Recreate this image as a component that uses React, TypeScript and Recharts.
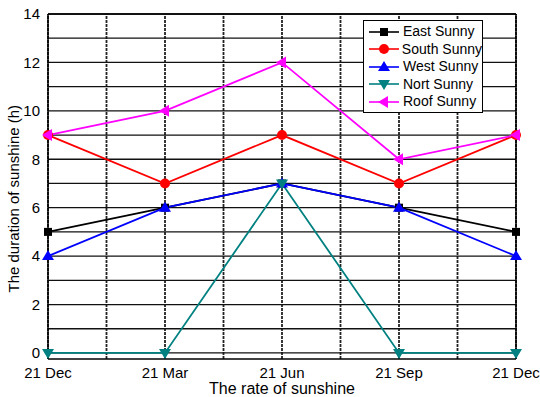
import { LineChart, Line, XAxis, YAxis, ReferenceLine } from "recharts"

const dates = ["21 Dec", "21 Mar", "21 Jun", "21 Sep", "21 Dec"]
const east = [5, 6, 7, 6, 5]
const south = [9, 7, 9, 7, 9]
const west = [4, 6, 7, 6, 4]
const nort = [0, 0, 7, 0, 0]
const roof = [9, 10, 12, 8, 9]
const yTicks = [0, 2, 4, 6, 8, 10, 12, 14]
const yGrid = [0, 1, 2, 3, 4, 5, 6, 7, 8, 9, 10, 11, 12, 13, 14]
const xGrid = [0, 0.5, 1, 1.5, 2, 2.5, 3, 3.5, 4]

const data = dates.map((d, i) => ({
  x: i,
  east: east[i],
  south: south[i],
  west: west[i],
  nort: nort[i],
  roof: roof[i],
}))

type Shape = "square" | "circle" | "up" | "down" | "left"

const series: { key: string; name: string; color: string; shape: Shape }[] = [
  { key: "east", name: "East Sunny", color: "#000000", shape: "square" },
  { key: "south", name: "South Sunny", color: "#ff0000", shape: "circle" },
  { key: "west", name: "West Sunny", color: "#0000ff", shape: "up" },
  { key: "nort", name: "Nort Sunny", color: "#008080", shape: "down" },
  { key: "roof", name: "Roof Sunny", color: "#ff00ff", shape: "left" },
]

const font = "Arial, 'Liberation Sans', sans-serif"

function Marker({ cx, cy, shape, color }: { cx: number; cy: number; shape: Shape; color: string }) {
  if (shape === "square") return <rect x={cx - 4} y={cy - 4} width={8} height={8} fill={color} />
  if (shape === "circle") return <circle cx={cx} cy={cy} r={5} fill={color} />
  if (shape === "up")
    return <polygon points={`${cx},${cy - 6} ${cx - 6},${cy + 4} ${cx + 6},${cy + 4}`} fill={color} />
  if (shape === "down")
    return <polygon points={`${cx},${cy + 6} ${cx - 6},${cy - 4} ${cx + 6},${cy - 4}`} fill={color} />
  return <polygon points={`${cx - 6},${cy} ${cx + 4},${cy - 6} ${cx + 4},${cy + 6}`} fill={color} />
}

function LegendBox() {
  return (
    <div
      style={{
        position: "absolute",
        left: 363,
        top: 20,
        width: 120,
        boxSizing: "border-box",
        border: "1px solid #000",
        background: "#fff",
        padding: "2px 0 1px 4px",
        fontFamily: font,
        fontSize: 14,
        lineHeight: "17.5px",
        color: "#000",
        whiteSpace: "nowrap",
      }}
    >
      {series.map((s) => (
        <div key={s.key} style={{ display: "flex", alignItems: "center" }}>
          <svg width={32} height={14} style={{ marginRight: 3 }}>
            <line x1={1} y1={7} x2={31} y2={7} stroke={s.color} strokeWidth={1.6} />
            <Marker cx={16} cy={7} shape={s.shape} color={s.color} />
          </svg>
          <span>{s.name}</span>
        </div>
      ))}
    </div>
  )
}

export default function App() {
  return (
    <div style={{ position: "fixed", left: 0, top: 0, width: 540, height: 397, background: "#fff" }}>
      <LineChart width={540} height={397} data={data} margin={{ top: 14, right: 24, left: 8, bottom: 8 }}>
        {xGrid.map((v) => (
          <ReferenceLine key={"vx" + v} x={v} stroke="#222" strokeWidth={1.8} strokeDasharray="3 1" />
        ))}
        {yGrid.map((v) => (
          <ReferenceLine key={"hy" + v} y={v} stroke="#111" strokeWidth={1.3} />
        ))}
        <ReferenceLine x={4} stroke="#000" strokeWidth={1.5} />
        <ReferenceLine y={14} stroke="#000" strokeWidth={1.5} />
        <XAxis
          dataKey="x"
          type="number"
          domain={[0, 4]}
          ticks={[0, 1, 2, 3, 4]}
          tickFormatter={(v: number) => dates[v]}
          axisLine={{ stroke: "#000", strokeWidth: 1.5 }}
          tickLine={false}
          tickSize={6}
          tickMargin={2}
          height={30}
          tick={{ fill: "#000", fontSize: 15, fontFamily: font }}
          label={{
            value: "The rate of sunshine",
            position: "insideBottom",
            offset: -5,
            fill: "#000",
            fontSize: 16,
            fontFamily: font,
          }}
        />
        <YAxis
          type="number"
          domain={[-0.25, 14]}
          ticks={yTicks}
          axisLine={{ stroke: "#000", strokeWidth: 1.5 }}
          tickLine={false}
          tickSize={6}
          tickMargin={2}
          width={40}
          tick={{ fill: "#000", fontSize: 15, fontFamily: font }}
          label={{
            value: "The duration of sunshine (h)",
            angle: -90,
            position: "insideLeft",
            offset: 6,
            dy: 106,
            fill: "#000",
            fontSize: 15,
            fontFamily: font,
          }}
        />
        {series.map((s) => (
          <Line
            key={s.key}
            dataKey={s.key}
            name={s.name}
            stroke={s.color}
            strokeWidth={1.8}
            isAnimationActive={false}
            dot={(p: any) => <Marker key={s.key + p.index} cx={p.cx} cy={p.cy} shape={s.shape} color={s.color} />}
            activeDot={false}
          />
        ))}
      </LineChart>
      <LegendBox />
    </div>
  )
}
